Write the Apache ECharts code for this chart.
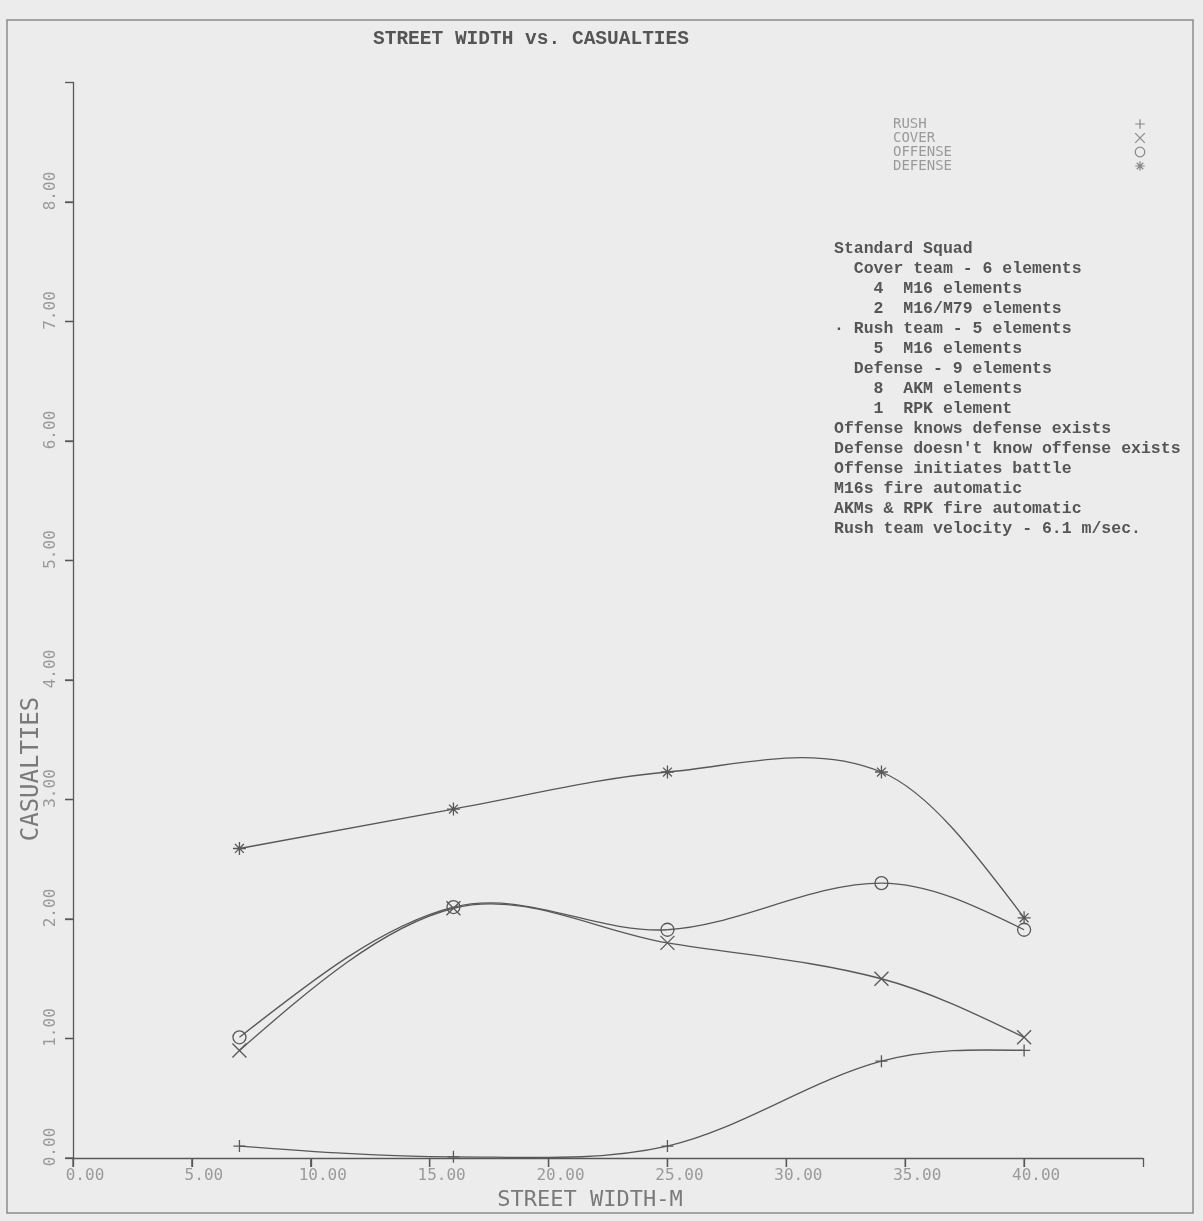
<!DOCTYPE html>
<html><head><meta charset="utf-8">
<script src="https://cdn.jsdelivr.net/npm/echarts@6/dist/echarts.min.js"></script>
<style>html,body{margin:0;padding:0;background:#ececec}#c{width:1203px;height:1221px}</style>
</head><body><div id="c"></div>
<script>
// ---- data ----
const streetWidth = [7, 16, 25, 34, 40];
const rush    = [0.10, 0.01, 0.10, 0.81, 0.90];
const cover   = [0.90, 2.09, 1.80, 1.50, 1.01];
const offense = [1.01, 2.10, 1.91, 2.30, 1.91];
const defense = [2.59, 2.92, 3.23, 3.23, 2.01];
const seriesNames = ['RUSH', 'COVER', 'OFFENSE', 'DEFENSE'];
const xTicks = [0, 5, 10, 15, 20, 25, 30, 35, 40];
const yTicks = [0, 1, 2, 3, 4, 5, 6, 7, 8];
const titleText = 'STREET WIDTH vs. CASUALTIES';
const xName = 'STREET WIDTH-M';
const yName = 'CASUALTIES';
const notes = [
  'Standard Squad',
  '  Cover team - 6 elements',
  '    4  M16 elements',
  '    2  M16/M79 elements',
  '· Rush team - 5 elements',
  '    5  M16 elements',
  '  Defense - 9 elements',
  '    8  AKM elements',
  '    1  RPK element',
  'Offense knows defense exists',
  "Defense doesn't know offense exists",
  'Offense initiates battle',
  'M16s fire automatic',
  'AKMs & RPK fire automatic',
  'Rush team velocity - 6.1 m/sec.'
];

// ---- styling ----
const INK = '#585858';
const FAINT = '#9a9a9a';
const symbols = [
  'path://M5 0L5 10M0 5L10 5',
  'path://M0 0L10 10M10 0L0 10',
  'circle',
  'path://M5 0L5 10M0 5L10 5M1.6 1.6L8.4 8.4M8.4 1.6L1.6 8.4'
];
const symbolSizes = [12, 14, 13, 13];
const values = [rush, cover, offense, defense];

// Smooth curve through the mapped data points (Hermite segments drawn as beziers)
function curveRenderer(vals) {
  return function (params, api) {
    const i = params.dataIndex;
    const n = streetWidth.length;
    if (i >= n - 1) return null;
    const P = streetWidth.map((x, j) => api.coord([x, vals[j]]));
    const slope = (a, b) => (P[b][1] - P[a][1]) / (P[b][0] - P[a][0]);
    const d = [];
    for (let k = 1; k < n - 1; k++) d[k] = slope(k - 1, k + 1);
    d[0] = (3 * slope(0, 1) - d[1]) / 2;
    d[n - 1] = (3 * slope(n - 2, n - 1) - d[n - 2]) / 2;
    const hi = P[i + 1][0] - P[i][0];
    return {
      type: 'bezierCurve',
      shape: {
        x1: P[i][0], y1: P[i][1], x2: P[i + 1][0], y2: P[i + 1][1],
        cpx1: P[i][0] + hi / 3, cpy1: P[i][1] + d[i] * hi / 3,
        cpx2: P[i + 1][0] - hi / 3, cpy2: P[i + 1][1] - d[i + 1] * hi / 3
      },
      style: { fill: 'none', stroke: INK, lineWidth: 1.3 },
      silent: true
    };
  };
}
// Tick marks at the scale positions of the tick values
function tickRenderer(dx, dy) {
  return function (params, api) {
    const c = api.coord([api.value(0), api.value(1)]);
    return { type: 'line', shape: { x1: c[0], y1: c[1], x2: c[0] + dx, y2: c[1] + dy },
             style: { stroke: INK, lineWidth: 1.3 }, silent: true };
  };
}

const chart = echarts.init(document.getElementById('c'));
chart.setOption({
  backgroundColor: '#ececec',
  animation: false,
  title: {
    text: titleText, left: 373, top: 29, padding: 0,
    textStyle: { fontFamily: 'Liberation Mono', fontWeight: 'bold', fontSize: 19.5, color: '#555' }
  },
  legend: {
    orient: 'vertical', left: 888, top: 112, align: 'right',
    itemWidth: 12, itemHeight: 12, itemGap: 0,
    data: seriesNames,
    formatter: n => '{n|' + n + '}',
    textStyle: {
      rich: { n: { width: 236, align: 'left', fontFamily: 'DejaVu Sans Mono', fontSize: 14, color: FAINT, lineHeight: 12 } }
    },
    itemStyle: { color: 'transparent', borderColor: '#888', borderWidth: 1.2 },
    lineStyle: { width: 0, opacity: 0 }
  },
  grid: { left: 73, right: 60, top: 82.5, bottom: 63, outerBoundsMode: 'none', containLabel: false },
  xAxis: {
    type: 'value', min: 0, max: 45, interval: 5,
    name: xName, nameLocation: 'middle', nameGap: 28,
    nameTextStyle: { fontFamily: 'DejaVu Sans Mono', fontSize: 22, color: '#7a7a7a', padding: [0, 36, 0, 0] },
    axisLine: { lineStyle: { color: INK, width: 1.3 } },
    axisTick: { show: true, length: 9, lineStyle: { color: INK, width: 1.3 } },
    axisLabel: {
      margin: 10,
      formatter: v => (xTicks.indexOf(v) >= 0 ? v.toFixed(2) : ''),
      fontFamily: 'DejaVu Sans Mono', fontSize: 16, color: FAINT, padding: [0, 0, 0, 24]
    },
    splitLine: { show: false }
  },
  yAxis: {
    type: 'value', min: 0, max: 9, interval: 1,
    axisLine: { show: true, lineStyle: { color: INK, width: 1.3 } },
    axisTick: { show: true, length: 8, lineStyle: { color: INK, width: 1.3 } },
    axisLabel: {
      rotate: 90, margin: 14,
      formatter: v => (yTicks.indexOf(v) >= 0 ? v.toFixed(2) : ''),
      fontFamily: 'DejaVu Sans Mono', fontSize: 16, color: FAINT, padding: [0, 0, 0, 22]
    },
    splitLine: { show: false }
  },
  graphic: [
    { type: 'rect', shape: { x: 7, y: 20, width: 1186, height: 1193 },
      style: { fill: 'none', stroke: '#8a8a8a', lineWidth: 1.5 }, silent: true },
    { type: 'text', x: 32, y: 769, rotation: Math.PI / 2,
      style: { text: yName, fontFamily: 'DejaVu Sans Mono', fontSize: 24, fill: '#7a7a7a', align: 'center', verticalAlign: 'middle' } },
    { type: 'text', x: 834, y: 239,
      style: { text: notes.join('\n'), fontFamily: 'Liberation Mono', fontWeight: 'bold', fontSize: 16.5, lineHeight: 20, fill: '#555', verticalAlign: 'top' } }
  ],
  series: seriesNames.map((name, i) => ({
    name, type: 'line',
    data: streetWidth.map((x, j) => [x, values[i][j]]),
    symbol: symbols[i], symbolSize: symbolSizes[i],
    itemStyle: { color: 'transparent', borderColor: INK, borderWidth: 1.3 },
    lineStyle: { width: 0, opacity: 0 },
    emphasis: { disabled: true },
    z: 3
  })).concat(seriesNames.map((name, i) => ({
    name: name + ' curve', type: 'custom', coordinateSystem: 'cartesian2d',
    data: streetWidth.map((x, j) => [x, values[i][j]]),
    encode: { x: 0, y: 1 },
    renderItem: curveRenderer(values[i]),
    z: 2
  }))).concat([
    { name: 'x ticks', type: 'custom', coordinateSystem: 'cartesian2d', clip: false, silent: true,
      data: xTicks.map(v => [v, 0]), encode: { x: 0, y: 1 }, renderItem: tickRenderer(0, 9), z: 1 },
    { name: 'y ticks', type: 'custom', coordinateSystem: 'cartesian2d', clip: false, silent: true,
      data: yTicks.map(v => [0, v]), encode: { x: 0, y: 1 }, renderItem: tickRenderer(-8, 0), z: 1 }
  ])
});
</script></body></html>
